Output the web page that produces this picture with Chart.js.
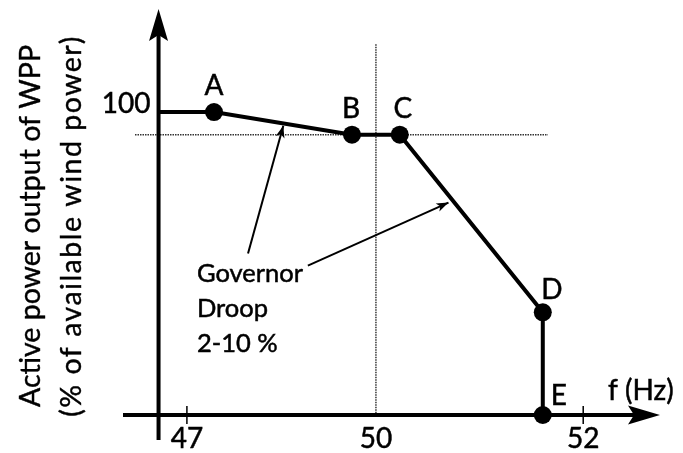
<!DOCTYPE html>
<html>
<head>
<meta charset="utf-8">
<script src="https://cdn.jsdelivr.net/npm/chart.js@4"></script>
<style>
  html, body { margin: 0; padding: 0; background: #fff; }
  canvas { display: block; }
</style>
</head>
<body>
<canvas id="chart" width="683" height="453"></canvas>
<script>
// Frequency response curve of the wind power plant (schematic)
const freqHz = [46.55, 47.43, 49.62, 50.23, 51.61, 51.61];
const powerPct = [100, 100, 92.5, 92.5, 33.9, 0];
const pointNames = ['', 'A', 'B', 'C', 'D', 'E'];

// Axis ticks
const freqTicks = [47, 50, 52];
const powerTicks = [100];

// Dotted reference lines
const nominalFreq = 50;
const refPower = 92.5;

// "Governor Droop" annotation
const droopText = ['Governor', 'Droop', '2-10 %'];
const droopArrowFrom = [[47.97, 53.3], [48.92, 49.3]];
const droopArrowTo = [[48.53, 95.5], [50.70, 70.1]];

const FONT = 'Lato, "Open Sans", sans-serif';

// x axis in the figure is not to scale: piecewise linear between ticks
class BrokenScale extends Chart.LinearScale {
  _frac(v) {
    const b = this.options.breaks;
    let i = 0;
    if (v > b[1][0]) i = b.length - 2;
    for (let k = 0; k < b.length - 1; k++) {
      if (v >= b[k][0] && v <= b[k + 1][0]) { i = k; break; }
    }
    const [v0, f0] = b[i], [v1, f1] = b[i + 1];
    return f0 + (v - v0) * (f1 - f0) / (v1 - v0);
  }
  getPixelForValue(v) {
    return this.left + this._frac(v) * (this.right - this.left);
  }
  getValueForPixel(p) {
    const f = (p - this.left) / (this.right - this.left);
    const b = this.options.breaks;
    let i = f < b[1][1] ? 0 : b.length - 2;
    for (let k = 0; k < b.length - 1; k++) {
      if (f >= b[k][1] && f <= b[k + 1][1]) { i = k; break; }
    }
    const [v0, f0] = b[i], [v1, f1] = b[i + 1];
    return v0 + (f - f0) * (v1 - v0) / (f1 - f0);
  }
}
BrokenScale.id = 'broken';
BrokenScale.defaults = Chart.LinearScale.defaults;
Chart.register(BrokenScale);

function stealthArrow(ctx, tipX, tipY, dir, len, half, notch) {
  // dir: unit vector pointing toward the tip
  const [dx, dy] = dir;
  const px = -dy, py = dx;
  const bx = tipX - dx * len, by = tipY - dy * len;
  ctx.beginPath();
  ctx.moveTo(tipX, tipY);
  ctx.lineTo(bx + px * half, by + py * half);
  ctx.lineTo(tipX - dx * (len - notch), tipY - dy * (len - notch));
  ctx.lineTo(bx - px * half, by - py * half);
  ctx.closePath();
  ctx.fill();
}

// slightly heavier text, closer to the original figure
function text(ctx, str, x, y) {
  ctx.fillText(str, x, y);
  ctx.strokeText(str, x, y);
}

const drawingPlugin = {
  id: 'schematic',
  beforeDatasetsDraw(chart) {
    const ctx = chart.ctx;
    const xs = chart.scales.x, ys = chart.scales.y;
    const area = chart.chartArea;
    const yAxisX = xs.getPixelForValue(freqHz[0]);
    const x0 = ys.getPixelForValue(0);
    ctx.save();

    // dotted reference lines
    ctx.strokeStyle = '#333';
    ctx.lineWidth = 1.5;
    ctx.setLineDash([1.5, 1]);
    ctx.beginPath();
    const yRef = ys.getPixelForValue(refPower);
    ctx.moveTo(area.left + 12, yRef);
    ctx.lineTo(xs.getPixelForValue(51.66), yRef);
    const xNom = xs.getPixelForValue(nominalFreq);
    ctx.moveTo(xNom, ys.getPixelForValue(122.4));
    ctx.lineTo(xNom, x0);
    ctx.stroke();
    ctx.setLineDash([]);

    // axes
    ctx.strokeStyle = '#000';
    ctx.fillStyle = '#000';
    ctx.lineWidth = 4;
    ctx.beginPath();
    ctx.moveTo(area.left, x0);
    ctx.lineTo(area.right - 20, x0);
    ctx.moveTo(yAxisX, x0 + 25);
    ctx.lineTo(yAxisX, area.top + 20);
    ctx.stroke();
    stealthArrow(ctx, area.right, x0, [1, 0], 32, 9.5, 6);
    stealthArrow(ctx, yAxisX, area.top, [0, -1], 32, 9.5, 6);

    // tick marks
    ctx.lineWidth = 1.5;
    ctx.beginPath();
    freqTicks.forEach(t => {
      if (t === nominalFreq) return;
      const px = xs.getPixelForValue(t);
      ctx.moveTo(px, x0 - 9);
      ctx.lineTo(px, x0 + 9);
    });
    ctx.stroke();

    // tick labels
    ctx.lineWidth = 0.5;
    ctx.font = '28px ' + FONT;
    ctx.textAlign = 'center';
    ctx.textBaseline = 'alphabetic';
    freqTicks.forEach(t => {
      text(ctx, String(t), xs.getPixelForValue(t), x0 + 33);
    });
    ctx.textAlign = 'right';
    powerTicks.forEach(t => {
      text(ctx, String(t), yAxisX - 8, ys.getPixelForValue(t) + 1);
    });

    // axis titles
    ctx.textAlign = 'left';
    text(ctx, 'f (Hz)', area.right - 52, x0 - 15);
    ctx.save();
    ctx.translate(40, 226);
    ctx.rotate(-Math.PI / 2);
    ctx.textAlign = 'center';
    ctx.font = '28.5px ' + FONT;
    ctx.lineWidth = 0.4;
    text(ctx, 'Active power output of WPP', 0, 0);
    ctx.letterSpacing = '1.5px';
    text(ctx, '(% of available wind power)', 0, 41);
    ctx.restore();
    ctx.restore();
  },
  afterDatasetsDraw(chart) {
    const ctx = chart.ctx;
    const xs = chart.scales.x, ys = chart.scales.y;
    ctx.save();
    ctx.fillStyle = '#000';
    ctx.strokeStyle = '#000';
    ctx.lineWidth = 0.5;

    // point names
    ctx.font = '28px ' + FONT;
    ctx.textBaseline = 'alphabetic';
    const offsets = { A: [0, -17], B: [-1, -17], C: [3, -17], D: [9, -13], E: [16, -10] };
    pointNames.forEach((n, i) => {
      if (!n) return;
      ctx.textAlign = 'center';
      const [ox, oy] = offsets[n];
      text(ctx, n, xs.getPixelForValue(freqHz[i]) + ox, ys.getPixelForValue(powerPct[i]) + oy);
    });

    // droop annotation
    ctx.font = '25.5px ' + FONT;
    ctx.textAlign = 'left';
    const tx = xs.getPixelForValue(47.16), ty = ys.getPixelForValue(43.75);
    droopText.forEach((line, i) => text(ctx, line, tx, ty + i * 35));

    ctx.lineWidth = 2;
    droopArrowFrom.forEach((from, i) => {
      const to = droopArrowTo[i];
      const fx = xs.getPixelForValue(from[0]), fy = ys.getPixelForValue(from[1]);
      const tx2 = xs.getPixelForValue(to[0]), ty2 = ys.getPixelForValue(to[1]);
      ctx.beginPath();
      ctx.moveTo(fx, fy);
      ctx.lineTo(tx2, ty2);
      ctx.stroke();
      const len = Math.hypot(tx2 - fx, ty2 - fy);
      stealthArrow(ctx, tx2, ty2, [(tx2 - fx) / len, (ty2 - fy) / len], 12, 4.5, 3);
    });
    ctx.restore();
  }
};

new Chart(document.getElementById('chart'), {
  type: 'scatter',
  data: {
    datasets: [{
      data: freqHz.map((f, i) => ({ x: f, y: powerPct[i] })),
      showLine: true,
      borderColor: '#000',
      borderWidth: 4,
      backgroundColor: '#000',
      pointBackgroundColor: '#000',
      pointBorderWidth: 0,
      pointRadius: pointNames.map(n => n ? 9 : 0),
      tension: 0,
      clip: false
    }]
  },
  options: {
    responsive: false,
    devicePixelRatio: 1,
    animation: false,
    events: [],
    layout: { padding: { left: 123, right: 23, top: 7.6, bottom: 38 } },
    plugins: {
      legend: { display: false },
      tooltip: { enabled: false }
    },
    scales: {
      x: {
        type: 'broken',
        display: false,
        min: 46,
        max: 52.74,
        breaks: [[47, 0.119], [50, 0.471], [52, 0.857]]
      },
      y: {
        type: 'linear',
        display: false,
        min: 0,
        max: 134
      }
    }
  },
  plugins: [drawingPlugin]
});
</script>
</body>
</html>
